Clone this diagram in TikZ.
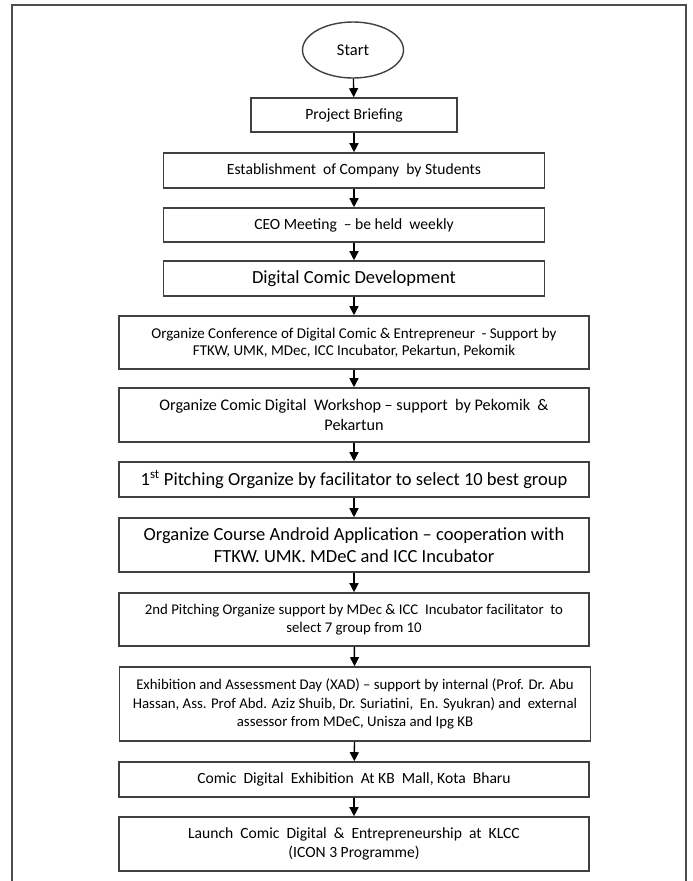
\documentclass[tikz,border=0pt]{standalone}
\usepackage{fontspec}
\setmainfont{Carlito}
\usetikzlibrary{arrows.meta, shapes.geometric}

\begin{document}
\begin{tikzpicture}
  [x=1pt, y=-1pt,
   stage/.style={shape=rectangle, draw=black!75, line width=1.6pt, align=center, inner sep=0pt},
   txtS/.style={font=\fontsize{14.8}{18.5}\selectfont},
   txtM/.style={font=\fontsize{15.6}{19}\selectfont},
   txtL/.style={font=\fontsize{18.5}{22}\selectfont},
   >={Triangle[length=9pt, width=9pt]}]
  \useasboundingbox (0,0) rectangle (693,881);
  \draw [black!70, line width=1.5pt] (12,881) -- (12,5) -- (686,5) -- (686,881);
  \node (start) [shape=ellipse, draw=black!75, line width=1.4pt, minimum width=101pt, minimum height=56pt, inner sep=0pt, font=\fontsize{16.5}{20}\selectfont] at (353,50) {Start};
  \node (brief) [stage, minimum width=206pt, minimum height=34pt, txtM] at (354,115) {Project Briefing};
  \node (company) [stage, minimum width=381pt, minimum height=35pt, txtM] at (354,170.5) {Establishment\ \ of Company\ \ by Students};
  \node (ceo) [stage, minimum width=381pt, minimum height=34pt, txtM] at (354,225) {CEO Meeting\ \ -- be held\ \ weekly};
  \node (develop) [stage, minimum width=381pt, minimum height=35pt, txtL] at (354,278.5) {Digital Comic Development};
  \node (conference) [stage, minimum width=470pt, minimum height=53pt, font=\fontsize{15}{17.5}\selectfont] at (354,342.5)
    {Organize Conference of Digital Comic \& Entrepreneur\ \ - Support by\\FTKW, UMK, MDec, ICC Incubator,\ Pekartun, Pekomik};
  \node (workshop) [stage, minimum width=470pt, minimum height=54pt, font=\fontsize{16.2}{19.5}\selectfont] at (354,415)
    {Organize Comic\ Digital\ \ Workshop -- support\ \ by Pekomik\ \ \&\\Pekartun};
  \node (pitch1) [stage, minimum width=470pt, minimum height=35pt, txtL] at (354,479.5)
    {1\textsuperscript{st} Pitching Organize by facilitator to select 10 best group};
  \node (android) [stage, minimum width=470pt, minimum height=54pt, txtL] at (354,545)
    {Organize Course Android Application -- cooperation with\\FTKW. UMK. MDeC and ICC Incubator};
  \node (pitch2) [stage, minimum width=470pt, minimum height=53pt, txtS] at (354,619.5)
    {2nd Pitching Organize support by MDec \& ICC\ \ Incubator facilitator\ \ to\\select 7 group from 10};
  \node (xad) [stage, minimum width=471pt, minimum height=74pt, txtS] at (355,704)
    {Exhibition and Assessment Day (XAD) -- support by internal (Prof. Dr. Abu\\Hassan, Ass. Prof Abd. Aziz Shuib, Dr. Suriatini,\ \ En. Syukran) and\ \ external\\assessor from MDeC, Unisza and Ipg KB};
  \node (exhibit) [stage, minimum width=470pt, minimum height=35pt, txtM] at (354,779.5)
    {Comic\ \ Digital\ \ Exhibition\ \ At KB\ \ Mall, Kota\ \ Bharu};
  \node (launch) [stage, minimum width=470pt, minimum height=54pt, txtM] at (354,844)
    {Launch\ \ Comic\ \ Digital\ \ \&\ \ Entrepreneurship\ \ at\ \ KLCC\\(ICON 3 Programme)};
  \draw [->, line width=1.4pt] (start) to (brief);
  \draw [->, line width=1.4pt] (brief) to (company);
  \draw [->, line width=1.4pt] (company) to (ceo);
  \draw [->, line width=1.4pt] (ceo) to (develop);
  \draw [->, line width=1.4pt] (develop) to (conference);
  \draw [->, line width=1.4pt] (conference) to (workshop);
  \draw [->, line width=1.4pt] (workshop) to (pitch1);
  \draw [->, line width=1.4pt] (pitch1) to (android);
  \draw [->, line width=1.4pt] (android) to (pitch2);
  \draw [->, line width=1.4pt] (pitch2) to (xad);
  \draw [->, line width=1.4pt] (xad) to (exhibit);
  \draw [->, line width=1.4pt] (exhibit) to (launch);
\end{tikzpicture}
\end{document}
